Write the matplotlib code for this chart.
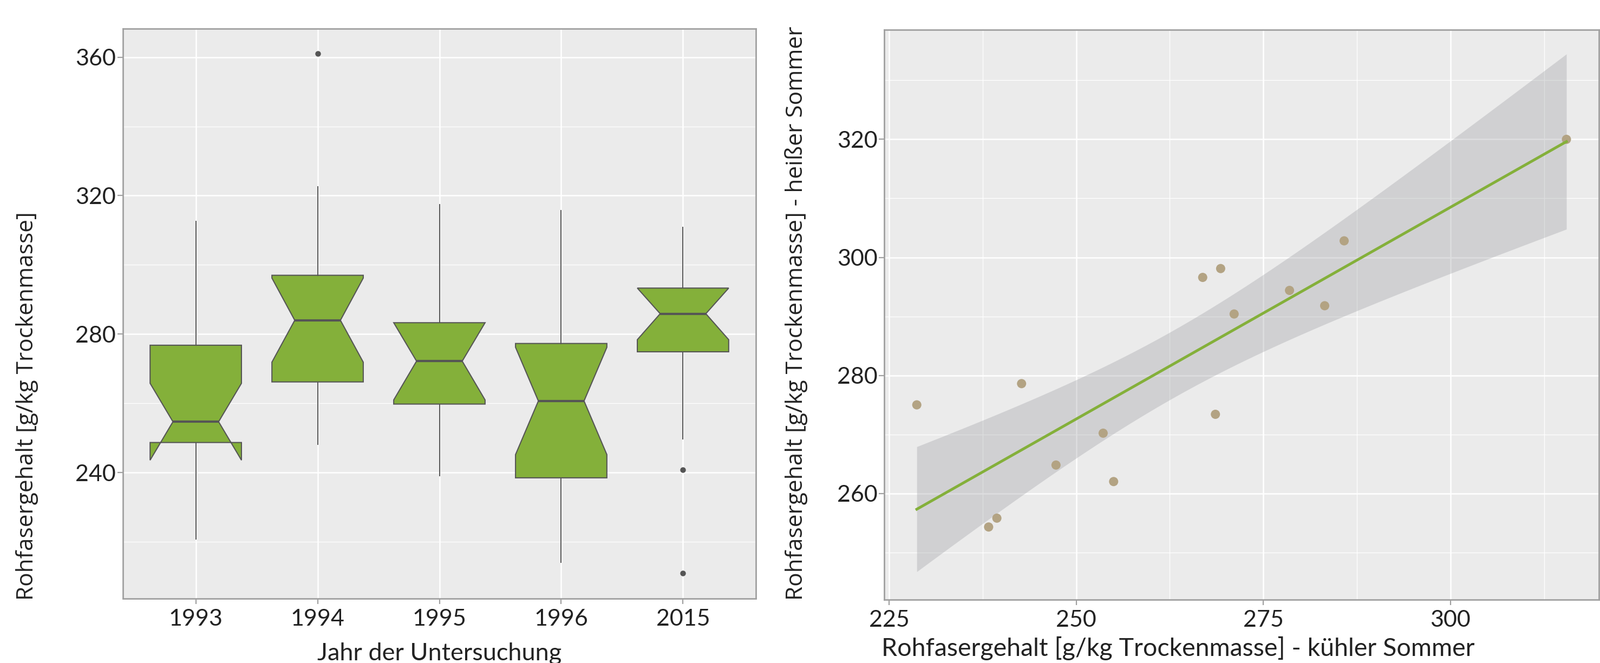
import numpy as np
import matplotlib
matplotlib.use("Agg")
import matplotlib.pyplot as plt

# ---------------- data ----------------
years = ["1993", "1994", "1995", "1996", "2015"]
q1 = [248.7, 266.2, 259.8, 238.5, 274.9]
med = [254.7, 284.0, 272.2, 260.7, 285.9]
q3 = [276.8, 297.0, 283.3, 277.3, 293.3]
notch_lo = [243.6, 271.9, 261.0, 245.2, 278.4]
notch_hi = [265.8, 296.2, 283.3, 276.2, 293.3]
whisk_lo = [220.8, 248.2, 239.1, 214.1, 249.8]
whisk_hi = [312.5, 322.6, 317.4, 315.7, 310.8]
outliers = [[], [361.0], [], [], [240.9, 210.9]]

cool = [228.7, 238.3, 239.4, 242.7, 247.3, 253.6, 255.0, 266.9, 268.6,
        269.3, 271.1, 278.5, 283.2, 285.8, 315.5]
hot = [275.0, 254.3, 255.8, 278.6, 264.8, 270.2, 262.0, 296.6, 273.4,
       298.1, 290.4, 294.4, 291.8, 302.8, 320.0]
T_975_DF13 = 2.1604  # t-quantile for 95% CI, n-2 = 13

# ---------------- style ----------------
W, H = 2955, 1225
DPI = 100
PANEL = "#EBEBEB"
GREEN = "#84B03A"
EDGE = "#555555"
SPINE = "#A0A0A0"
TXT = "#222222"
TICK_FONT = ["Lato", "DejaVu Sans"]
YLAB_FONT = ["Open Sans", "DejaVu Sans"]
TS = 31
YS = 30.5

fig = plt.figure(figsize=(W / DPI, H / DPI), dpi=DPI)
fig.patch.set_facecolor("white")

def fx(px):
    return px / W

def fy(py):
    return 1 - py / H

def style_axes(ax):
    ax.set_facecolor(PANEL)
    ax.set_axisbelow(True)
    for s in ax.spines.values():
        s.set_color(SPINE)
        s.set_linewidth(2.0)
    ax.grid(which="major", color="white", linewidth=1.8)
    ax.grid(which="minor", color="white", linewidth=0.9)
    ax.tick_params(which="major", length=7, width=1.6, color=SPINE,
                   labelsize=TS, labelcolor=TXT)
    ax.tick_params(which="minor", length=0)
    ax.tick_params(axis="x", pad=7)
    ax.tick_params(axis="y", pad=2)
    for lab in ax.get_xticklabels() + ax.get_yticklabels():
        lab.set_family(TICK_FONT)

# ---------------- left: notched boxplots ----------------
ax1 = fig.add_axes([fx(226.6), fy(1105.5), fx(1396.4 - 226.6), (1105.5 - 53.1) / H])
stats = []
for i in range(len(years)):
    stats.append(dict(med=med[i], q1=q1[i], q3=q3[i], whislo=whisk_lo[i],
                      whishi=whisk_hi[i], cilo=notch_lo[i], cihi=notch_hi[i],
                      fliers=outliers[i], label=years[i]))
pos = np.arange(1, len(years) + 1)
ax1.bxp(stats, positions=pos, widths=0.75, shownotches=True, patch_artist=True,
        showcaps=False,
        boxprops=dict(facecolor=GREEN, edgecolor=EDGE, linewidth=1.5),
        medianprops=dict(color=EDGE, linewidth=3.0, solid_capstyle="butt"),
        whiskerprops=dict(color=EDGE, linewidth=1.4),
        flierprops=dict(marker="o", markerfacecolor=EDGE, markeredgecolor=EDGE,
                        markersize=6.5))
ax1.set_xlim(0.4, 5.6)
ax1.set_ylim(203.7, 368.2)
ax1.set_xticks(pos)
ax1.set_xticklabels(years)
ax1.set_yticks([240, 280, 320, 360])
ax1.set_yticks([220, 260, 300, 340], minor=True)
ax1.grid(False, axis="x", which="minor")
style_axes(ax1)

fig.text(fx(811.5), fy(1220), "Jahr der Untersuchung", ha="center", va="baseline",
         fontsize=32.5, color=TXT, family=TICK_FONT)
fig.text(fx(50), fy(1109), "Rohfasergehalt [g/kg Trockenmasse]", rotation=90,
         ha="center", va="bottom", fontsize=YS, color=TXT, family=YLAB_FONT)

# ---------------- right: scatter + regression ----------------
ax2 = fig.add_axes([fx(1633.2), fy(1107.8), fx(2953 - 1633.2), (1107.8 - 54.7) / H])
x = np.array(cool)
y = np.array(hot)
slope, icpt = np.polyfit(x, y, 1)
n = len(x)
resid = y - (slope * x + icpt)
s = np.sqrt(np.sum(resid ** 2) / (n - 2))
xg = np.linspace(x.min(), x.max(), 80)
yg = slope * xg + icpt
se = s * np.sqrt(1 / n + (xg - x.mean()) ** 2 / np.sum((x - x.mean()) ** 2))
ax2.fill_between(xg, yg - T_975_DF13 * se, yg + T_975_DF13 * se,
                 color="#9A9BA0", alpha=0.33, linewidth=0, zorder=2)
ax2.scatter(x, y, s=150, color="#B3A383", edgecolors="none", zorder=3)
ax2.plot(xg, yg, color=GREEN, linewidth=3.6, zorder=4)
ax2.set_xlim(224.36, 319.84)
ax2.set_ylim(242.0, 338.6)
ax2.set_xticks([225, 250, 275, 300])
ax2.set_xticks([237.5, 262.5, 287.5, 312.5], minor=True)
ax2.set_yticks([260, 280, 300, 320])
ax2.set_yticks([250, 270, 290, 310, 330], minor=True)
style_axes(ax2)

fig.text(fx(1628), fy(1212), "Rohfasergehalt [g/kg Trockenmasse] - kühler Sommer",
         ha="left", va="baseline", fontsize=33.5, color=TXT, family=TICK_FONT)
fig.text(fx(1471), fy(1109), "Rohfasergehalt [g/kg Trockenmasse] - heißer Sommer",
         rotation=90, ha="center", va="bottom", fontsize=YS, color=TXT,
         family=YLAB_FONT)

fig.savefig("out.png", dpi=DPI, facecolor="white")
